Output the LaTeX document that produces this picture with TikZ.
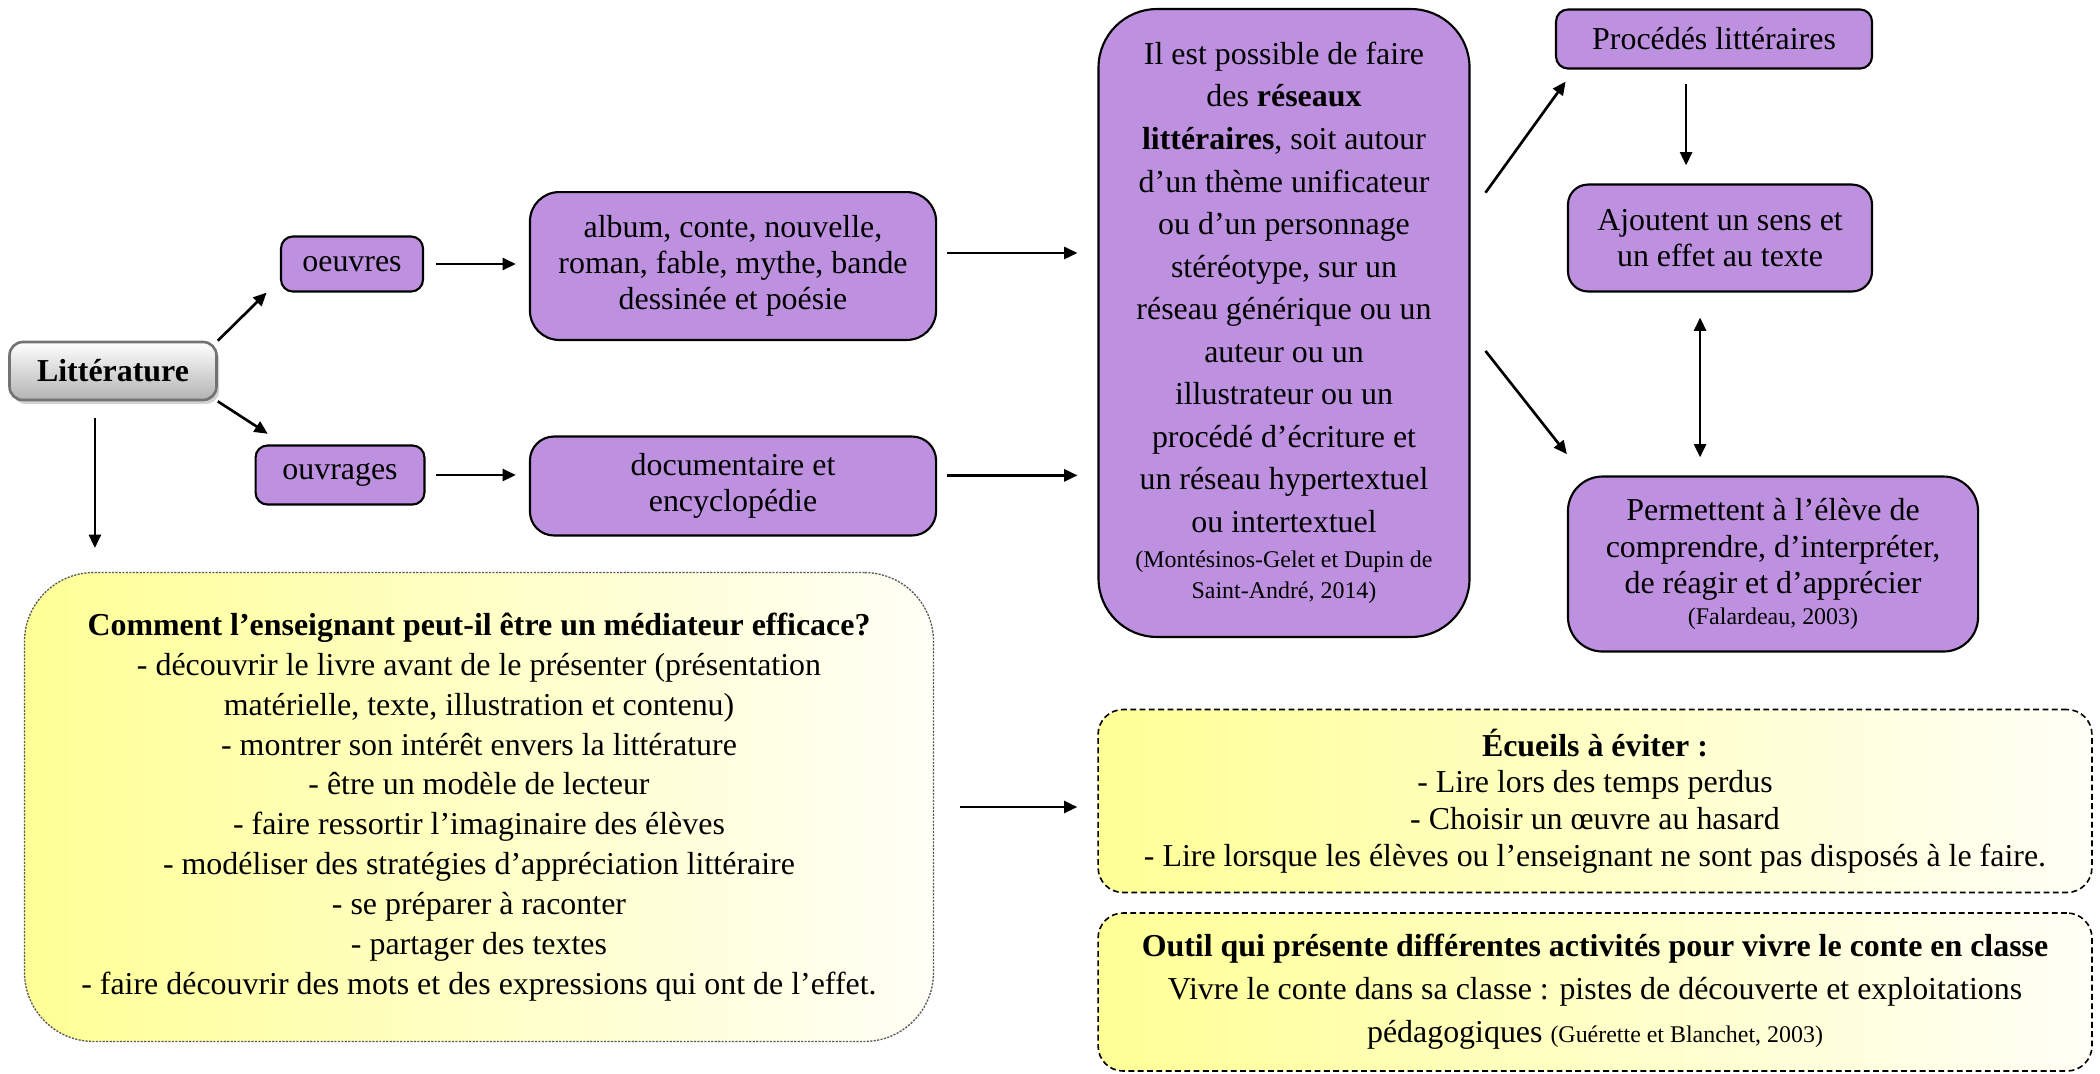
\documentclass[tikz,border=0pt]{standalone}
\usepackage{fontspec}
\setmainfont{Liberation Serif}
\usepackage{tikz}
\usetikzlibrary{arrows.meta,shadows}

\definecolor{lila}{RGB}{190,145,224}
\definecolor{jaune}{RGB}{255,255,150}
\definecolor{blanc}{RGB}{255,255,246}
\newcommand{\refsize}{\fontsize{9}{11.5}\selectfont}

\begin{document}
\begin{tikzpicture}[x=0.376pt,y=-0.376pt,
      every node/.style={font=\fontsize{12}{13.6}\selectfont},
      box/.style={draw,fill=lila,align=center,line width=.8pt,inner sep=2pt},
      note/.style={left color=jaune,right color=blanc,align=center,inner sep=2pt},
      arr/.style={-{Triangle[length=5pt,width=4.5pt]},line width=1pt}]
      \useasboundingbox (0,0) rectangle (2100,1073);

      % racine
      \node[draw=black!55,line width=1pt,rounded corners=5pt,
            top color=white,bottom color=black!30,
            drop shadow={shadow xshift=1pt,shadow yshift=-1.5pt,opacity=.35},
            minimum width=77.8pt,minimum height=21.8pt] (lit) at (113,371)
            {\textbf{Littérature}};

      % oeuvres et ouvrages
      \node[box,rounded corners=4.5pt,minimum width=53.4pt,minimum height=20.7pt]
            (oeuvres) at (352,264) {oeuvres};
      \node[box,rounded corners=4.5pt,minimum width=63.5pt,minimum height=22.2pt]
            (ouvrages) at (340,475) {ouvrages};
      \node[box,rounded corners=11pt,minimum width=152.7pt,minimum height=55.6pt]
            (album) at (733,266)
            {album, conte, nouvelle,\\roman, fable, mythe, bande\\dessinée et poésie};
      \node[box,rounded corners=9pt,minimum width=152.7pt,minimum height=37.2pt]
            (doc) at (733,486) {documentaire et\\encyclopédie};

      % reseaux
      \node[box,rounded corners=22pt,minimum width=139.5pt,minimum height=236.1pt,
            font=\fontsize{12}{16}\selectfont] (reseaux) at (1284,323)
            {Il est possible de faire\\des \textbf{réseaux}\\\textbf{littéraires}, soit autour\\
             d’un thème unificateur\\ou d’un personnage\\stéréotype, sur un\\
             réseau générique ou un\\auteur ou un\\illustrateur ou un\\
             procédé d’écriture et\\un réseau hypertextuel\\ou intertextuel\\[-3pt]
             {\refsize (Montésinos-Gelet et Dupin de}\\[-4pt]
             {\refsize Saint-André, 2014)}};

      % procedes
      \node[box,rounded corners=4.5pt,minimum width=118.8pt,minimum height=22.2pt]
            (proc) at (1714,39) {Procédés littéraires};
      \node[box,rounded corners=7.5pt,minimum width=114.3pt,minimum height=40.2pt]
            (ajout) at (1720,238) {Ajoutent un sens et\\un effet au texte};
      \node[box,rounded corners=13pt,minimum width=154.2pt,minimum height=65.8pt]
            (perm) at (1773,564)
            {Permettent à l’élève de\\comprendre, d’interpréter,\\de réagir et d’apprécier\\[-2pt]
             {\refsize (Falardeau, 2003)}};

      % notes
      \node[note,draw=black!65,dash pattern=on .8pt off .5pt,line width=.5pt,
            rounded corners=26pt,minimum width=341.8pt,minimum height=176.3pt,
            font=\fontsize{12}{15}\selectfont] (comment) at (479,807)
            {\textbf{Comment l’enseignant peut-il être un médiateur efficace?}\\
             - découvrir le livre avant de le présenter (présentation\\
             matérielle, texte, illustration et contenu)\\
             - montrer son intérêt envers la littérature\\
             - être un modèle de lecteur\\
             - faire ressortir l’imaginaire des élèves\\
             - modéliser des stratégies d’appréciation littéraire\\
             - se préparer à raconter\\
             - partager des textes\\
             - faire découvrir des mots et des expressions qui ont de l’effet.};
      \node[note,draw,dash pattern=on 2.2pt off 1.3pt,line width=.6pt,
            rounded corners=9.4pt,minimum width=373.7pt,minimum height=68.8pt,
            font=\fontsize{12}{13.8}\selectfont] (ecueils) at (1595,801)
            {\textbf{Écueils à éviter :}\\- Lire lors des temps perdus\\
             - Choisir un œuvre au hasard\\
             - Lire lorsque les élèves ou l’enseignant ne sont pas disposés à le faire.};
      \node[note,draw,dash pattern=on 2.2pt off 1.3pt,line width=.6pt,
            rounded corners=9.4pt,minimum width=373.7pt,minimum height=59.4pt,
            font=\fontsize{12}{16.2}\selectfont] (outil) at (1595,992)
            {\textbf{Outil qui présente différentes activités pour vivre le conte en classe}\\
             Vivre le conte dans sa classe : pistes de découverte et exploitations\\
             pédagogiques {\refsize (Guérette et Blanchet, 2003)}};

      % fleches
      \draw[arr] (lit.north east) -- ([xshift=-5pt,yshift=0pt]oeuvres.south west);
      \draw[arr] (lit.south east) -- ([xshift=5pt,yshift=4pt]ouvrages.north west);
      \draw[arr,shorten <=6.4pt,shorten >=9pt] ([xshift=-6.8pt]lit.south)
            -- ([xshift=-6.8pt]lit.south |- comment.north);
      \draw[arr,shorten <=4.5pt,shorten >=4.9pt] (oeuvres.east) -- (oeuvres.east -| album.west);
      \draw[arr,shorten <=3.8pt,shorten >=4.9pt] (ouvrages.east) -- (ouvrages.east -| doc.west);
      \draw[arr,shorten <=3.8pt,shorten >=7.5pt] ([yshift=4.9pt]album.east)
            -- ([yshift=4.9pt]album.east -| reseaux.west);
      \draw[arr,shorten <=3.8pt,shorten >=7.5pt] ([yshift=4pt]doc.east)
            -- ([yshift=4pt]doc.east -| reseaux.west);
      \draw[arr] ([xshift=5.6pt,yshift=49pt]reseaux.east)
            -- ([xshift=4pt,yshift=-4.5pt]proc.south west);
      \draw[arr] ([xshift=5.6pt,yshift=-10.5pt]reseaux.east)
            -- ([yshift=8pt]perm.north west);
      \draw[arr,shorten <=5.6pt,shorten >=6.8pt] ([xshift=-10.5pt]proc.south)
            -- ([xshift=-10.5pt]proc.south |- ajout.north);
      \draw[arr,{Triangle[length=5pt,width=4.5pt]}-{Triangle[length=5pt,width=4.5pt]},
            shorten <=9.4pt,shorten >=6.8pt] ([xshift=-7.5pt]ajout.south)
            -- ([xshift=-7.5pt]ajout.south |- perm.north);
      \draw[arr,shorten <=9.8pt,shorten >=7.5pt] (comment.east) -- (comment.east -| ecueils.west);
\end{tikzpicture}
\end{document}
